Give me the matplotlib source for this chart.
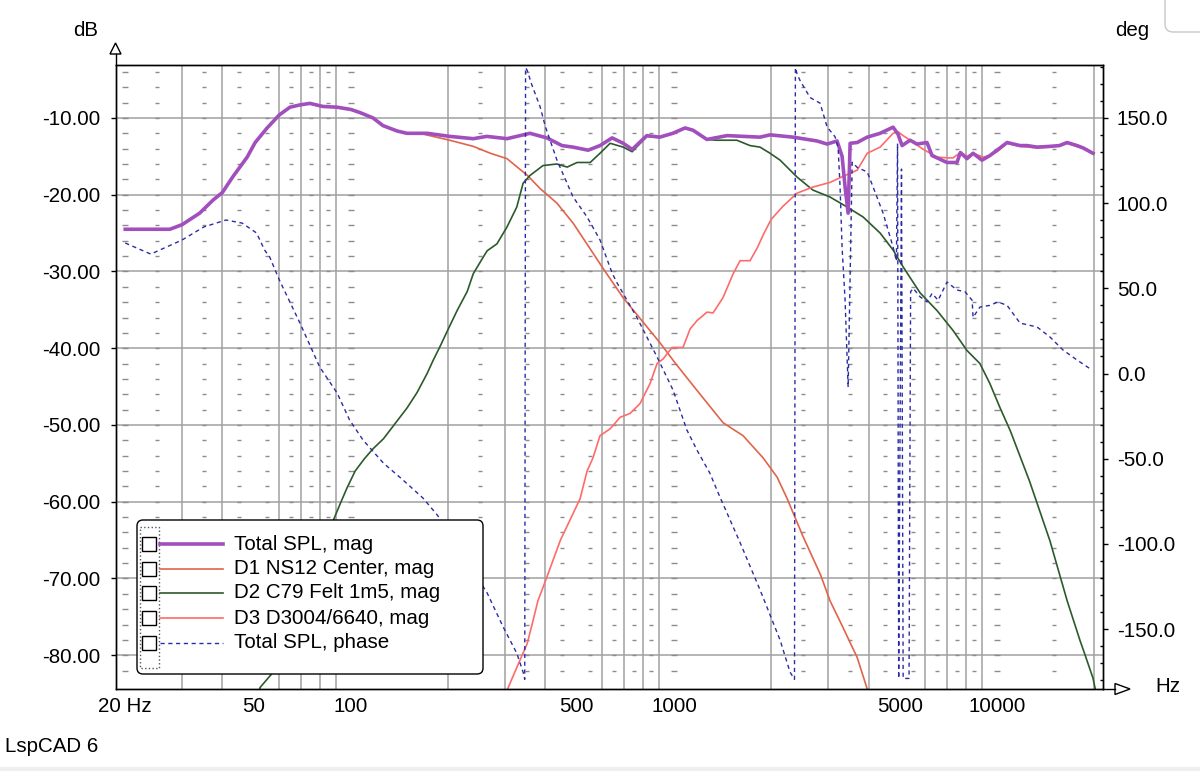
import numpy as np
import matplotlib
matplotlib.use("Agg")
import matplotlib.pyplot as plt
from matplotlib.patches import Rectangle, FancyBboxPatch, Polygon
from matplotlib.lines import Line2D
from matplotlib.transforms import Affine2D
from matplotlib.ticker import FixedLocator, NullFormatter

# --- data (Hz, dB / deg) ---
total_f = [20, 27.5, 30, 34, 37.4, 40, 43, 47.7, 50.5, 55, 60, 64.7, 69.5, 74.6, 81.8, 90.6,
           100, 106.6, 117, 125.6, 139, 149, 172, 202, 239, 263, 304, 358, 404, 450, 487, 542,
           590, 643, 696, 742, 824, 903, 991, 1082, 1145, 1264, 1460, 1846, 1983, 2335, 2773,
           2978, 3197, 3313, 3385, 3459, 3509, 3690, 3963, 4346, 4765, 4935, 5081, 5380, 5650,
           6070, 6290, 7000, 7515, 7700, 8070, 8430, 8980, 9500, 10000, 10740, 11780, 12390,
           13300, 14600, 15600, 16480, 17690, 18460, 19820]
total_db = [-24.5, -24.5, -23.9, -22.4, -20.7, -19.7, -17.7, -15.1, -13.2, -11.3, -9.6, -8.6,
            -8.3, -8.1, -8.5, -8.6, -8.9, -9.3, -10.0, -11.0, -11.7, -12.0, -12.0, -12.4, -12.7,
            -12.4, -12.7, -12.0, -12.6, -13.6, -13.8, -14.2, -13.6, -12.6, -13.3, -14.1, -12.3,
            -12.5, -12.0, -11.3, -11.6, -12.8, -12.3, -12.5, -12.2, -12.5, -13.0, -13.4, -13.0,
            -15.0, -19.0, -22.4, -13.3, -13.2, -12.5, -12.0, -11.2, -12.1, -13.6, -12.9, -13.4,
            -13.2, -14.9, -15.8, -15.8, -14.5, -15.3, -14.6, -15.5, -14.9, -14.2, -13.2, -13.6,
            -13.6, -13.8, -13.7, -13.6, -13.2, -13.6, -13.9, -14.6]

d1_f = [20, 27.5, 30, 34, 37.4, 40, 43, 47.7, 50.5, 55, 60, 64.7, 69.5, 74.6, 81.8, 90.6,
        100, 106.6, 117, 125.6, 139, 149, 167, 202, 239, 270, 304, 327, 352, 385, 434, 487,
        545, 603, 695, 802, 905, 1007, 1178, 1418, 1636, 1888, 2085, 2240, 2500, 2840, 3040,
        3336, 3690, 3963, 4100]
d1_db = [-24.5, -24.5, -23.9, -22.4, -20.7, -19.7, -17.7, -15.1, -13.2, -11.3, -9.6, -8.6,
         -8.3, -8.1, -8.5, -8.6, -8.9, -9.3, -10.0, -11.0, -11.7, -12.0, -12.1, -12.9, -13.7,
         -14.6, -15.3, -16.4, -17.5, -19.2, -21.1, -23.7, -26.8, -29.6, -33.4, -36.6, -39.3,
         -41.9, -45.5, -49.7, -51.4, -54.3, -56.8, -59.6, -64.4, -69.5, -72.9, -76.4, -80.3,
         -84.4, -86.5]

d2_f = [51, 52.3, 56.9, 65, 75, 82, 88, 92.5, 97.2, 103, 110, 117, 126, 137, 149, 160, 172,
        179.5, 189, 200, 213, 229, 239, 256, 264, 283, 304, 326, 341, 358, 393, 434, 467, 501,
        550, 590, 634, 696, 742, 824, 903, 991, 1082, 1145, 1264, 1353, 1565, 1719, 1846, 1983,
        2130, 2403, 2692, 3040, 3433, 3848, 4346, 4765, 5118, 5780, 6520, 7310, 8070, 8850,
        9500, 10200, 11000, 12600, 14580, 16480, 18070, 18740, 19820, 20500]
d2_db = [-86.0, -84.2, -82.4, -76.0, -69.0, -65.0, -62.5, -60.3, -58.2, -56.0, -54.4, -53.1,
         -51.8, -49.8, -47.8, -45.8, -43.3, -41.6, -39.7, -37.5, -35.1, -32.6, -30.3, -28.2,
         -27.3, -26.4, -24.2, -21.6, -18.5, -17.5, -16.2, -16.0, -16.4, -15.8, -15.8, -14.6,
         -13.3, -13.8, -14.4, -12.4, -12.5, -12.0, -11.3, -11.6, -12.8, -12.9, -12.9, -13.6,
         -13.8, -14.6, -15.5, -17.7, -19.4, -20.3, -21.6, -22.9, -25.0, -27.2, -29.4, -32.8,
         -35.1, -37.7, -40.3, -42.0, -44.6, -47.7, -50.8, -57.3, -65.1, -72.9, -78.1, -80.0,
         -83.0, -86.0]

d3_f = [300, 306, 333, 351, 366, 379, 400, 445, 512, 538, 561, 590, 634, 681, 731, 785, 843,
        886, 925, 986, 1066, 1121, 1178, 1265, 1321, 1418, 1524, 1601, 1719, 1806, 1900, 2000,
        2174, 2403, 2692, 3040, 3300, 3690, 3963, 4346, 4765, 4935, 5118, 5380, 5864, 6520,
        7000, 7310, 7700, 8070, 8430, 9060, 9500, 10000, 10740, 11780, 13300, 14600, 16480,
        18460, 19820]
d3_db = [-86.0, -84.3, -80.7, -78.5, -75.5, -72.9, -70.3, -65.0, -59.6, -56.0, -54.3, -51.4,
         -50.5, -49.0, -48.5, -47.2, -44.6, -42.0, -41.4, -39.9, -39.9, -37.5, -36.4, -35.3,
         -35.4, -33.4, -30.3, -28.6, -28.6, -27.0, -25.0, -23.2, -21.5, -19.8, -19.0, -18.4,
         -17.7, -16.8, -14.6, -13.8, -12.0, -11.8, -12.3, -12.9, -14.0, -15.1, -15.2, -15.2,
         -14.5, -15.0, -14.6, -15.1, -14.9, -14.4, -13.3, -13.7, -13.9, -13.8, -13.3, -14.0,
         -14.7]

phase_f = [20, 24, 30, 35, 41, 46, 51, 54, 56, 60, 69.5, 80, 90.6, 99, 109, 126, 145, 167,
           185, 220, 264, 296, 326, 341, 345, 347, 351, 363, 385, 400, 434, 487, 538, 590, 643,
           667, 767, 886, 993, 1096, 1178, 1291, 1387, 1600, 1846, 2130, 2286, 2360, 2375, 2403,
           2455, 2637, 2832, 2978, 3150, 3220, 3266, 3313, 3385, 3459, 3560, 3690, 3963, 4133,
           4437, 4765, 4880, 4920, 4960, 5060, 5120, 5340, 5400, 5500, 5780, 6070, 6290, 6570,
           7000, 7515, 7960, 8370, 8430, 8850, 9500, 10060, 10740, 11780, 13300, 14590, 16000,
           17690, 19680]
phase_deg = [76.6, 70.1, 78.4, 86.0, 90.1, 88.3, 82.5, 72.5, 68.4, 54.9, 29.6, 3.8, -11.5,
             -27.3, -39.1, -52.6, -62.6, -73.1, -83.1, -105, -128.9, -148.9, -164.2, -175.3,
             -179.5, 179.5, 178, 169.4, 156.5, 144.7, 125.3, 103.6, 91.9, 78.4, 59, 53, 33, 9.7,
             -9.7, -33.2, -45, -58.5, -72.5, -99.1, -127, -156.5, -175.3, -179.5, 179.5, 176,
             172, 162, 158.7, 144.7, 139, 133, 109.5, 74, 43, -8, 124, 121, 118.3, 109.5, 94.2,
             74.3, 66, 135, -179, 120, -179, -179, 48, 50, 45, 42, 47, 43, 53.7, 49, 48, 43, 33,
             39, 40, 42, 40, 29.6, 27.3, 21.4, 13.8, 7.9, 2]

series_labels = ["Total SPL, mag", "D1 NS12 Center, mag", "D2 C79 Felt 1m5, mag",
                 "D3 D3004/6640, mag", "Total SPL, phase"]
x_tick_vals = [20, 50, 100, 500, 1000, 5000, 10000]
x_tick_labels = ["20 Hz", "50", "100", "500", "1000", "5000", "10000"]
db_ticks = [-80, -70, -60, -50, -40, -30, -20, -10]
deg_ticks = [-150, -100, -50, 0, 50, 100, 150]

# colours / styles
C_TOTAL = "#a24fbe"
C_D1 = "#e0644a"
C_D2 = "#2b5a2b"
C_D3 = "#ff6a6a"
C_PH = "#2b2ba6"
C_GRID = "#a0a0a0"
FS = 14.8

plt.rcParams['font.family'] = ['Liberation Sans', 'DejaVu Sans']

W, H = 1200, 771
fig = plt.figure(figsize=(W / 100, H / 100), dpi=100)
fig.patch.set_facecolor("white")
# pixel coords, origin top-left
px = Affine2D().scale(1.0 / W, -1.0 / H).translate(0, 1) + fig.transFigure

ax = fig.add_axes([115.5 / W, 1 - 689 / H, (1103 - 115.5) / W, (689 - 65) / H])
ax.set_xscale("log")
ax.set_xlim(18.66, 21280)
ax.set_ylim(-84.4, -3.1)

# grid: solid lines on 1-2-3..9 steps, little dashes in between
grid_f = [f * d for d in (10, 100, 1000) for f in range(2, 10)] + [10000, 20000]
ax.xaxis.set_major_locator(FixedLocator(x_tick_vals))
ax.set_xticklabels(x_tick_labels)
ax.xaxis.set_minor_locator(FixedLocator(grid_f))
ax.xaxis.set_minor_formatter(NullFormatter())
ax.grid(True, which="minor", axis="x", color=C_GRID, lw=1.1)
ax.set_yticks(db_ticks)
ax.set_yticklabels([f"{v:.2f}" for v in db_ticks])
ax.grid(True, which="major", axis="y", color=C_GRID, lw=1.1)
ax.set_axisbelow(True)

dash_f = [k * d + d / 2 for d in (10, 100, 1000) for k in range(2, 9)] + [15000]
cross_f = [20, 100, 1000, 10000]
rows = np.arange(-82, -3, 2)
fx, fy = np.meshgrid(dash_f, rows)
ax.plot(fx.ravel(), fy.ravel(), ls="none", marker="_", ms=3.2, mew=1.0, color="#8c8c8c", zorder=0.8)
cx, cy = np.meshgrid(cross_f, rows)
ax.plot(cx.ravel(), cy.ravel(), ls="none", marker="_", ms=5.0, mew=1.0, color="#8c8c8c", zorder=0.8)

ax.plot(d1_f, d1_db, color=C_D1, lw=1.2, zorder=2)
ax.plot(d2_f, d2_db, color=C_D2, lw=1.2, zorder=2.1)
ax.plot(d3_f, d3_db, color=C_D3, lw=1.2, zorder=2.2)
ax.plot(total_f, total_db, color=C_TOTAL, lw=2.6, zorder=3)

ax.tick_params(axis="x", which="both", length=0, pad=6, labelsize=FS)
ax.tick_params(axis="y", which="major", direction="out", length=3.6, width=1, pad=7.3, labelsize=FS)
for s in ax.spines.values():
    s.set_color("black")
    s.set_linewidth(1.0)

ax2 = ax.twinx()
ax2.set_ylim(-185.2, 181.1)
ax2.set_yticks(deg_ticks)
ax2.set_yticklabels([f"{v:.1f}" for v in deg_ticks])
ax2.yaxis.set_minor_locator(FixedLocator(np.arange(-180, 181, 10)))
ax2.tick_params(axis="y", which="major", direction="out", length=3.6, width=1, pad=6.3, labelsize=FS)
ax2.tick_params(axis="y", which="minor", direction="in", length=2.5, width=1)
ax2.plot(phase_f, phase_deg, color=C_PH, lw=1.0, ls=(0, (3, 2.6)), zorder=2)
for s in ax2.spines.values():
    s.set_color("black")
    s.set_linewidth(1.0)

# axis arrows and unit labels
fig.add_artist(Line2D([115.5, 115.5], [65, 54], transform=px, color="black", lw=1))
fig.add_artist(Polygon([(110, 54), (121, 54), (115.5, 43)], closed=True, transform=px,
                       fc="white", ec="black", lw=1))
fig.add_artist(Line2D([1103, 1115], [689, 689], transform=px, color="black", lw=1))
fig.add_artist(Polygon([(1115, 683.5), (1115, 694.5), (1130, 689)], closed=True, transform=px,
                       fc="white", ec="black", lw=1))
fig.text(86, 30, "dB", transform=px, ha="center", va="center", fontsize=FS)
fig.text(1132, 31, "deg", transform=px, ha="center", va="center", fontsize=FS)
fig.text(1168, 686, "Hz", transform=px, ha="center", va="center", fontsize=FS)
fig.text(5, 747, "LspCAD 6", transform=px, ha="left", va="center", fontsize=FS)

# window chrome bits
fig.add_artist(Rectangle((0, 767), W, 10, transform=px, fc="#eeeeee", ec="none"))
fig.add_artist(FancyBboxPatch((1165, -30), 60, 62, boxstyle="round,pad=0,rounding_size=8",
                              transform=px, fc="white", ec="#c8c8c8", lw=1))

# legend box, drawn like the LspCAD one with check boxes
fig.add_artist(FancyBboxPatch((137, 520), 346, 154, boxstyle="round,pad=0,rounding_size=6",
                              transform=px, fc="white", ec="black", lw=1, zorder=5))
fig.add_artist(Rectangle((139.5, 527), 19, 141, transform=px, fc="white", ec="#555555",
                         lw=1, ls=":", zorder=5.1))
leg_styles = [(C_TOTAL, 2.6, "-"), (C_D1, 1.2, "-"), (C_D2, 1.2, "-"), (C_D3, 1.2, "-"),
              (C_PH, 1.0, (0, (3, 2.6)))]
leg_rows = [544, 569, 593, 618, 643]
for yy, lab, (c, lw, ls) in zip(leg_rows, series_labels, leg_styles):
    fig.add_artist(Rectangle((142, yy - 7), 14, 14, transform=px, fc="white", ec="black",
                             lw=1, zorder=5.2))
    fig.add_artist(Line2D([160, 223], [yy, yy], transform=px, color=c, lw=lw, ls=ls, zorder=5.2))
    fig.text(234, yy, lab, transform=px, ha="left", va="center", fontsize=FS, zorder=5.3)

fig.savefig("out.png", dpi=100, facecolor="white")
